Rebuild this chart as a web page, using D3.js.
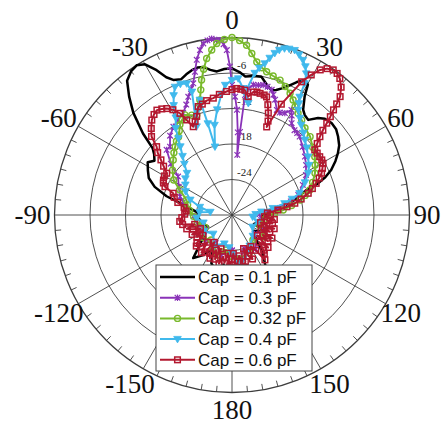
<!DOCTYPE html>
<html>
<head>
<meta charset="utf-8">
<script src="https://cdn.jsdelivr.net/npm/d3@7"></script>
<style>
  body { margin: 0; background: #fff; }
</style>
</head>
<body>
<div id="chart"></div>
<script>
// gain patterns: [angle in degrees, clockwise from top, gain in dB]
var cap01 = [[-180,-20],[-170,-21.5],[-163,-20.3],[-157,-21.1],[-150,-23.5],[-145,-21.8],[-138,-20.2],[-132,-22.8],[-126,-24.3],[-116,-25.5],[-105,-24.8],[-95,-24.3],[-86,-24.2],[-80,-22.5],[-77,-21],[-74,-18.5],[-70,-16.1],[-66,-14.6],[-62,-13.9],[-58,-13.2],[-55,-14],[-52,-13.3],[-50,-12.5],[-47.5,-9.6],[-44,-6],[-41,-3.5],[-38,-1.2],[-35,-0.3],[-32.5,0],[-30,-0.6],[-27.5,-2.4],[-25.5,-4.2],[-23.5,-5.1],[-20.5,-5.5],[-18,-5],[-15.5,-4.6],[-13,-4.4],[-11,-4.5],[-8.5,-5.2],[-6,-5.6],[-3,-5.3],[0,-5.2],[3,-5.8],[5.5,-6.5],[9,-6.2],[12,-6.1],[15,-7.2],[17.5,-7.9],[19.5,-7.6],[21.5,-7],[24,-6],[26,-5],[28.3,-4.1],[30.2,-4.5],[31.5,-6.5],[34,-8.5],[36,-9.1],[38.7,-9.4],[41.6,-8.1],[44,-7.4],[47.3,-7.1],[50.5,-7.2],[53.5,-7.7],[57,-8.4],[59.8,-9.3],[62.5,-10.3],[65.6,-11.6],[68,-13],[69.8,-14.5],[71.4,-16.7],[74,-18],[76.5,-19.1],[80,-21],[85,-23.6],[92,-25],[100,-24.5],[107,-25.5],[112,-26],[117,-24],[121,-24.5],[126,-25.5],[132,-24.8],[137,-23.6],[141,-21.7],[147,-19.6],[155,-19],[165,-18.5],[172,-19.5],[180,-20]];

var cap03 = [[-180,-24],[-165,-23],[-150,-24.5],[-135,-23.5],[-120,-25],[-105,-24],[-92,-23.5],[-80,-22],[-75,-21.5],[-70.6,-20.7],[-62,-19.8],[-54.5,-18.8],[-50,-16.5],[-45.1,-14.4],[-42.2,-14.4],[-38,-13],[-33.6,-12.1],[-29.5,-11.5],[-25.6,-10.9],[-22.5,-9.8],[-20.3,-8.7],[-18,-7.6],[-16.4,-6.8],[-14.5,-5],[-12.8,-3.1],[-11,-1.6],[-9.5,-0.6],[-8,-0.2],[-6.6,0],[-5,-0.3],[-3.9,-0.4],[-2.8,-1.1],[-1.8,-2.1],[-0.8,-4.9],[0,-8],[1.5,-10],[2.7,-12.2],[4,-16],[5,-19.8],[5.5,-15.9],[6.2,-9.6],[7.5,-8.4],[9.3,-7.7],[11.5,-7.6],[13.5,-7.4],[15.5,-7.5],[17.6,-7.8],[19,-8.5],[20.5,-9.2],[23.1,-10.7],[25,-10.9],[27.4,-10.6],[29.5,-9.6],[31,-10.4],[33,-11.5],[36.4,-12.2],[38.5,-12.3],[40.8,-12.5],[46,-13.4],[51.3,-14.2],[56,-14.9],[61.6,-15.8],[67,-17],[73.1,-18.3],[77,-19.8],[81.7,-21.8],[88,-25.3],[100,-25],[115,-24],[130,-25],[145,-23],[160,-24],[170,-22.5],[180,-24]];

var cap032 = [[-180,-23],[-170,-24],[-160,-22.8],[-150,-23.5],[-140,-24.5],[-128,-23.8],[-115,-25],[-102,-24],[-92,-23.5],[-84,-22.8],[-77,-22.3],[-71.7,-21.9],[-64.3,-20.2],[-59,-18.5],[-53,-17.4],[-46.9,-16.4],[-43,-15.6],[-39.8,-15],[-37,-14.4],[-34.4,-14],[-32,-13.2],[-30,-12.4],[-27.5,-11.8],[-25.2,-11.3],[-22,-11.8],[-19.4,-12.1],[-17.5,-11],[-15.6,-9.8],[-14,-8.2],[-12.7,-6.6],[-11,-4.9],[-9.2,-3.2],[-7,-1.9],[-5.1,-0.9],[-2.5,-0.3],[0,0],[2.5,-0.5],[4.9,-1.2],[7,-2.5],[9.2,-3.8],[11.5,-4.6],[13.6,-5.1],[16.5,-5.5],[19.6,-5.8],[22.5,-6.5],[25.5,-7.2],[28,-8],[30.2,-8.8],[33,-9.5],[36.3,-10.1],[40,-10.8],[44.9,-11.3],[50,-12.2],[54.9,-12.9],[59,-13.6],[63.3,-14.3],[68,-15.3],[72.2,-16.2],[75,-17.2],[77.6,-18.2],[81,-19.8],[84.4,-21.3],[88,-22.8],[91.7,-24.1],[98,-24.5],[110,-25],[125,-23.5],[140,-24.5],[155,-23],[170,-22.5],[180,-23]];

var cap04 = [[-180,-23.5],[-175,-24.5],[-165,-25],[-150,-24],[-135,-25.5],[-120,-24.5],[-105,-25],[-95,-24],[-85,-24.5],[-82,-26.3],[-76,-24.4],[-70,-22.5],[-63,-21.2],[-57,-20.6],[-52,-20],[-47,-19.6],[-43,-18.2],[-40,-17],[-37,-15.5],[-35,-14.2],[-33,-12.5],[-30,-11],[-28,-9],[-26,-7.5],[-24,-6.3],[-21.5,-6.2],[-19,-6.5],[-18,-8.1],[-21.8,-13.9],[-18.5,-11.5],[-15.6,-9.8],[-14.8,-14],[-14,-18.1],[-11,-14.5],[-8,-12],[-5,-9.5],[-3,-8],[0,-7.2],[2.6,-6.9],[5,-8.5],[8.3,-10.9],[6,-9.3],[9.1,-5.7],[10.5,-4.7],[12.2,-3.8],[13.5,-2.7],[14.8,-1.7],[16,-1],[17.5,-0.5],[19,-0.3],[20.8,-0.2],[22.7,-0.6],[24.6,-1.2],[26.3,-2],[27.7,-3],[28.9,-4.6],[29.8,-7],[31,-8],[32.2,-9],[35,-10],[37.5,-10.8],[41,-11.6],[44.1,-12.3],[48,-13],[52.5,-13.8],[57,-14.5],[61.2,-15.3],[66,-16.5],[72.2,-18],[75,-19.5],[77.5,-20.9],[80.5,-23],[83.6,-25],[88,-26],[95,-26.5],[105,-25.5],[120,-26],[135,-25],[150,-24],[160,-23],[168,-22],[173,-21.5],[178,-23],[180,-23.5]];

var cap06 = [[-180,-22.5],[-177,-21.2],[-174,-23.5],[-171,-21.8],[-168,-22.8],[-165,-21.5],[-162,-24],[-159,-22],[-156,-23.5],[-153,-21.8],[-150,-22.5],[-147,-24.5],[-144,-22.3],[-141,-21.8],[-138,-23.8],[-135,-22.5],[-131,-22],[-128.7,-22.4],[-125,-24],[-122,-23],[-119,-23.8],[-116,-22.5],[-113,-24.2],[-110,-23],[-107,-22],[-104,-23.5],[-101,-21.5],[-97,-21.1],[-93,-21.5],[-89,-22],[-85,-22.2],[-81,-21.8],[-77,-20.6],[-73,-19.8],[-69.7,-19.4],[-67.1,-17.7],[-65,-17.2],[-63,-17],[-60,-16.8],[-57.4,-16.9],[-54.5,-15.8],[-52.2,-14.8],[-50,-13.6],[-47.8,-12.8],[-45.7,-11],[-43,-10],[-40.2,-9],[-37.8,-8.5],[-35.6,-8.2],[-33.5,-8.5],[-31.5,-8.9],[-29.3,-9.6],[-27.1,-10.7],[-25.5,-12.2],[-23.7,-13.7],[-21.5,-13],[-19.7,-12.3],[-17.3,-10.8],[-15,-10.6],[-12.5,-10.2],[-9.1,-10],[-6,-9.5],[-2.5,-9.1],[0,-8.8],[2.1,-8.6],[4,-8.7],[5.9,-8.8],[7.8,-9.8],[9.8,-8.9],[11.5,-8.8],[13,-8.9],[15,-9],[16.3,-9.2],[18,-10.4],[19.6,-11.7],[21,-13],[21.5,-14],[24,-9.5],[27.6,-4.6],[29.5,-2.8],[31.3,-1.3],[33,-0.5],[34.9,-0.1],[36.6,-0.2],[38.3,-0.6],[40.5,-1.6],[42.4,-2.9],[43.3,-4.2],[44,-5.3],[45,-6.5],[45.9,-7.7],[47,-9],[48.3,-10.1],[50,-11.2],[51.8,-12.2],[54,-12.2],[56.4,-12.2],[58.5,-12.2],[60.4,-12.3],[62.7,-12.8],[65,-13.3],[67,-14],[69.4,-14.8],[71.8,-15.7],[74.1,-16.6],[77,-18],[79.4,-19.2],[81.5,-20.6],[83.8,-22.2],[86.7,-24],[90,-23.5],[93,-24.5],[96,-22.8],[99,-24],[102,-23],[105,-25],[108,-22.5],[111,-24.2],[114,-23],[117,-24.5],[120,-22.2],[123,-23.8],[126,-22.5],[129,-24.5],[132,-21.8],[135,-23.5],[138,-22],[140,-21.5],[143.7,-20.6],[146,-22.8],[149,-23.8],[152.8,-23.3],[155,-21.8],[158,-22.5],[161,-24],[164,-21.8],[167,-21],[170,-23],[173,-22],[176,-21.2],[178,-23.5],[180,-22.5]];

var seriesNames = ["Cap = 0.1 pF", "Cap = 0.3 pF", "Cap = 0.32 pF", "Cap = 0.4 pF", "Cap = 0.6 pF"];
var ringValues = [-24, -18, -12, -6, 0];
var ringLabels = ["-24", "-18", "-12", "-6"];
var spokeAngles = [0, 30, 60, 90, 120, 150, 180, 210, 240, 270, 300, 330];
var spokeLabels = ["0", "30", "60", "90", "120", "150", "180", "-150", "-120", "-90", "-60", "-30"];

var width = 443, height = 425,
    cx = 232, cy = 215, R = 177.5;

var svg = d3.select("#chart").append("svg")
    .attr("width", width)
    .attr("height", height);

var g = svg.append("g")
    .attr("transform", "translate(" + cx + "," + cy + ")");

// radius scale: -30 dB at the centre, 0 dB on the outer circle
var r = d3.scaleLinear().domain([-30, 0]).range([0, R]).clamp(true);
var rad = function(deg) { return deg * Math.PI / 180; };
var px = function(d) { return r(d[1]) * Math.sin(rad(d[0])); };
var py = function(d) { return -r(d[1]) * Math.cos(rad(d[0])); };

var gridColor = "#3d3d3d";

// rings
g.selectAll(".ring")
    .data(ringValues)
    .enter().append("circle")
    .attr("r", function(d) { return r(d); })
    .attr("fill", "none")
    .attr("stroke", gridColor)
    .attr("stroke-width", function(d) { return d === 0 ? 1.3 : 0.9; });

// spokes
g.selectAll(".spoke")
    .data(spokeAngles)
    .enter().append("line")
    .attr("x1", 0).attr("y1", 0)
    .attr("x2", function(d) { return R * Math.sin(rad(d)); })
    .attr("y2", function(d) { return -R * Math.cos(rad(d)); })
    .attr("stroke", gridColor)
    .attr("stroke-width", 0.9);

// small ticks every 5 degrees on the outer circle
var tickAngles = d3.range(0, 360, 5).filter(function(d) { return d % 30 !== 0; });
g.selectAll(".tick")
    .data(tickAngles)
    .enter().append("line")
    .attr("x1", function(d) { return R * Math.sin(rad(d)); })
    .attr("y1", function(d) { return -R * Math.cos(rad(d)); })
    .attr("x2", function(d) { return (R - 6) * Math.sin(rad(d)); })
    .attr("y2", function(d) { return -(R - 6) * Math.cos(rad(d)); })
    .attr("stroke", gridColor)
    .attr("stroke-width", 0.9);

// ring labels
g.selectAll(".rlabel")
    .data(ringLabels)
    .enter().append("text")
    .attr("x", 5)
    .attr("y", function(d) { return -r(+d) - 4; })
    .attr("font-family", "Liberation Serif, Times New Roman, serif")
    .attr("font-size", 11)
    .attr("fill", "#222")
    .text(function(d) { return d; });

// angle labels
g.selectAll(".alabel")
    .data(spokeAngles)
    .enter().append("text")
    .attr("x", function(d) { return 195 * Math.sin(rad(d)); })
    .attr("y", function(d) { return -195 * Math.cos(rad(d)); })
    .attr("dx", function(d, i) { return spokeLabels[i][0] === "-" ? -4.5 : 0; })
    .attr("dy", "0.35em")
    .attr("text-anchor", "middle")
    .attr("font-family", "Liberation Serif, Times New Roman, serif")
    .attr("font-size", 27)
    .attr("fill", "#111")
    .text(function(d, i) { return spokeLabels[i]; });

// marker shapes
var markers = [
  null,
  function(sel, c) {
    sel.append("path").attr("d", "M-2.8,-2.8L2.8,2.8M-2.8,2.8L2.8,-2.8M0,-3.2V3.2")
      .attr("stroke", c).attr("stroke-width", 1.2).attr("fill", "none");
  },
  function(sel, c) {
    sel.append("circle").attr("r", 3)
      .attr("stroke", c).attr("stroke-width", 1.4).attr("fill", "none");
  },
  function(sel, c) {
    sel.append("path").attr("d", "M-3.8,-2.7L3.8,-2.7L0,3.8Z")
      .attr("stroke", c).attr("stroke-width", 0.8).attr("fill", c);
  },
  function(sel, c) {
    sel.append("rect").attr("x", -2.8).attr("y", -2.8).attr("width", 5.6).attr("height", 5.6)
      .attr("stroke", c).attr("stroke-width", 1.5).attr("fill", "none");
  }
];

var allSeries = [cap01, cap03, cap032, cap04, cap06];
var colors = ["#000000", "#8a33b8", "#79b92c", "#40b9ec", "#b3182f"];
var widths = [2.5, 1.8, 2, 2, 2];

var line = d3.lineRadial()
    .angle(function(d) { return rad(d[0]); })
    .radius(function(d) { return r(d[1]); });

allSeries.forEach(function(data, i) {
  var sg = g.append("g");
  sg.append("path")
    .datum(data)
    .attr("d", line)
    .attr("fill", "none")
    .attr("stroke", colors[i])
    .attr("stroke-width", widths[i])
    .attr("stroke-linejoin", "round");
  if (markers[i]) {
    sg.selectAll(".m")
      .data(data)
      .enter().append("g")
      .attr("transform", function(d) { return "translate(" + px(d) + "," + py(d) + ")"; })
      .each(function() { markers[i](d3.select(this), colors[i]); });
  }
});

// legend
var legend = svg.append("g").attr("transform", "translate(156,265)");
legend.append("rect")
    .attr("width", 156).attr("height", 106)
    .attr("fill", "#fff")
    .attr("stroke", "#444")
    .attr("stroke-width", 1);

seriesNames.forEach(function(name, i) {
  var yy = 12 + i * 20.7;
  var row = legend.append("g").attr("transform", "translate(0," + yy + ")");
  row.append("line")
    .attr("x1", 4).attr("x2", 39)
    .attr("y1", 0).attr("y2", 0)
    .attr("stroke", colors[i])
    .attr("stroke-width", i === 0 ? 2.6 : 2);
  if (markers[i]) {
    var mg = row.append("g").attr("transform", "translate(21.5,0)");
    markers[i](mg, colors[i]);
  }
  row.append("text")
    .attr("x", 42)
    .attr("y", 0)
    .attr("dy", "0.35em")
    .attr("font-family", "Liberation Sans, Arial, sans-serif")
    .attr("font-size", 17)
    .attr("fill", "#111")
    .text(name);
});
</script>
</body>
</html>
